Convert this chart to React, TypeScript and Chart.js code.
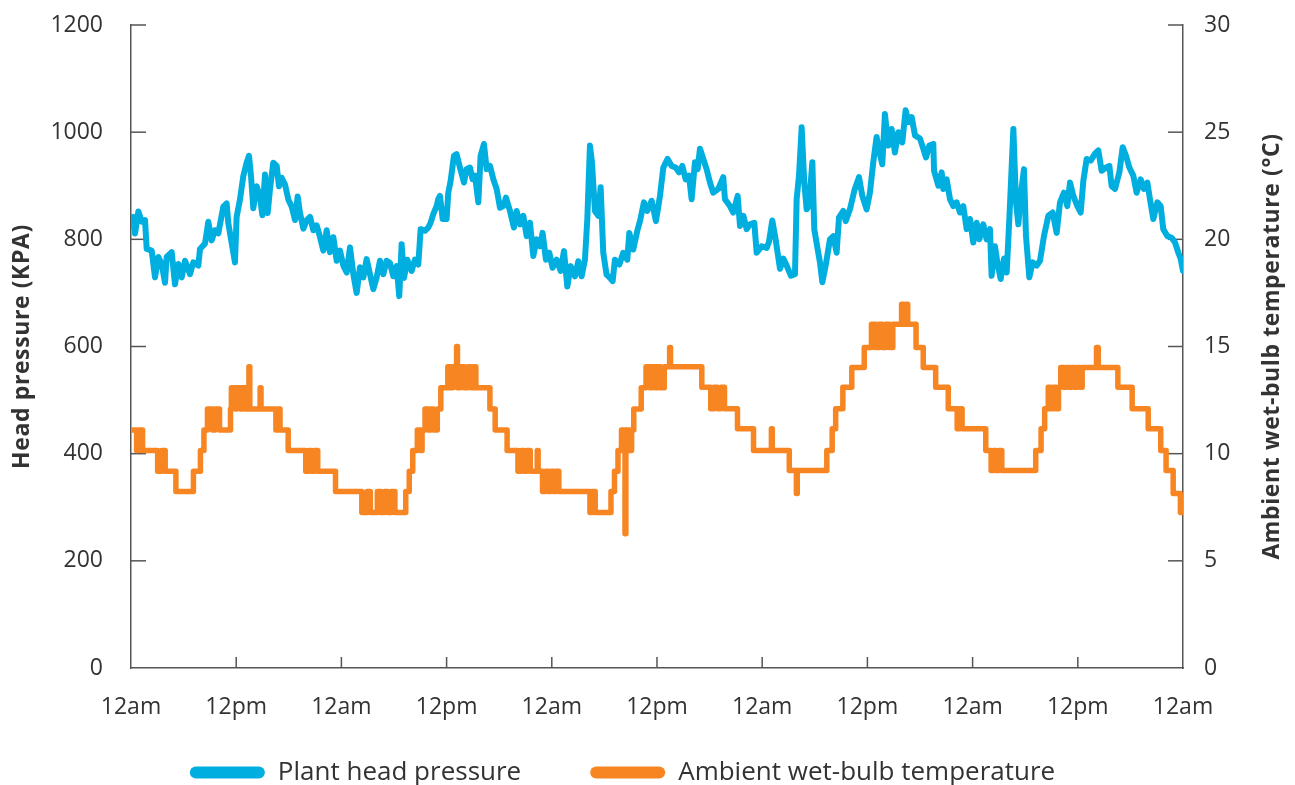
import React, { useEffect, useRef } from 'react';
import { Chart, registerables } from 'chart.js';

Chart.register(...registerables);

// ---------- data ----------
const xTickLabels = ['12am', '12pm', '12am', '12pm', '12am', '12pm', '12am', '12pm', '12am', '12pm', '12am'];

const leftTitle = 'Head pressure (KPA)';
const rightTitle = 'Ambient wet-bulb temperature (°C)';
const pressureLabel = 'Plant head pressure';
const tempLabel = 'Ambient wet-bulb temperature';

// hours since start (0..120) and plant head pressure (kPa)
const pressureHours = [
  0, 0.27, 0.46, 0.84, 1.22, 1.6, 1.79, 2.36, 2.74, 3.12, 3.5, 3.88, 4.07, 4.64, 5.02, 5.4, 5.78, 6.16, 6.73, 7.11,
  7.68, 7.87, 8.44, 8.82, 9.2, 9.58, 9.96, 10.53, 10.91, 11.1, 11.86, 12.05, 12.43, 12.81, 13.19, 13.46, 13.69, 13.95, 14.33, 14.71,
  14.98, 15.29, 15.59, 15.85, 16.23, 16.62, 16.88, 17.18, 17.57, 17.95, 18.33, 18.71, 19.01, 19.28, 19.66, 20.04, 20.42, 20.8, 21.18, 21.56,
  21.94, 22.32, 22.7, 23.08, 23.46, 23.84, 24.22, 24.6, 24.98, 25.36, 25.74, 26.12, 26.5, 26.88, 27.26, 27.64, 28.02, 28.4, 28.78, 29.16,
  29.54, 29.92, 30.3, 30.6, 30.87, 31.14, 31.52, 32.01, 32.39, 32.77, 33.04, 33.53, 33.91, 34.18, 34.48, 34.86, 35.05, 35.24, 35.55, 36.0,
  36.19, 36.46, 36.84, 37.14, 37.52, 37.98, 38.28, 38.66, 38.97, 39.24, 39.62, 39.88, 40.26, 40.57, 40.95, 41.33, 41.71, 42.09, 42.47, 42.77,
  43.23, 43.68, 43.99, 44.37, 44.75, 45.13, 45.51, 45.89, 46.27, 46.65, 46.95, 47.33, 47.71, 48.09, 48.55, 49.01, 49.39, 49.77, 50.15, 50.64,
  51.02, 51.4, 51.78, 52.05, 52.35, 52.58, 52.92, 53.3, 53.57, 53.87, 54.25, 54.63, 54.94, 55.2, 55.7, 56.15, 56.61, 56.84, 57.29, 57.75,
  58.06, 58.51, 58.89, 59.39, 59.88, 60.34, 60.72, 61.21, 61.67, 62.13, 62.51, 62.89, 63.27, 63.65, 63.95, 64.33, 64.64, 64.9, 65.28, 65.66,
  66.04, 66.42, 66.99, 67.56, 67.75, 68.32, 68.7, 69.2, 69.47, 69.85, 70.23, 70.61, 71.1, 71.37, 71.94, 72.51, 72.77, 73.15, 73.53, 74.03,
  74.41, 74.79, 75.28, 75.74, 75.93, 76.2, 76.5, 76.8, 77.07, 77.34, 77.72, 77.94, 78.32, 78.59, 78.86, 79.24, 79.73, 80.11, 80.49, 80.76,
  81.25, 81.52, 82.01, 82.51, 83.04, 83.42, 83.91, 84.29, 84.67, 85.05, 85.32, 85.7, 86.0, 86.38, 86.76, 87.14, 87.52, 87.98, 88.36, 88.67,
  89.05, 89.43, 90.0, 90.38, 90.68, 91.06, 91.52, 91.6, 92.09, 92.47, 92.66, 93.04, 93.42, 93.8, 94.18, 94.56, 94.94, 95.32, 95.7, 96.08,
  96.46, 96.77, 97.22, 97.6, 97.98, 98.17, 98.55, 98.82, 99.2, 99.58, 99.89, 100.19, 100.65, 100.95, 101.22, 101.48, 101.86, 102.09, 102.47, 102.85,
  103.31, 103.69, 104.14, 104.64, 105.13, 105.59, 105.97, 106.42, 106.8, 107.11, 107.49, 107.95, 108.33, 108.63, 109.01, 109.47, 109.96, 110.34, 110.72, 111.22,
  111.6, 111.86, 112.24, 112.74, 113.12, 113.5, 113.88, 114.33, 114.71, 115.17, 115.55, 115.93, 116.23, 116.61, 117.07, 117.45, 117.75, 118.21, 118.71, 119.09,
  119.47, 119.73, 120,
];
const pressureKpa = [
  826, 842, 811, 852, 833, 836, 782, 779, 729, 767, 754, 719, 767, 776, 716, 754, 729, 760, 735, 757,
  751, 782, 792, 833, 798, 817, 811, 861, 867, 830, 757, 842, 874, 918, 943, 956, 918, 858, 899, 880,
  845, 921, 849, 893, 943, 937, 899, 915, 902, 874, 861, 836, 880, 849, 820, 836, 842, 817, 826, 804,
  779, 817, 776, 804, 760, 779, 751, 738, 785, 735, 700, 748, 729, 763, 735, 707, 729, 760, 735, 760,
  756, 731, 750, 694, 791, 728, 762, 741, 762, 753, 819, 816, 822, 831, 847, 862, 875, 881, 838, 838,
  887, 909, 956, 959, 934, 906, 931, 934, 912, 919, 869, 956, 978, 931, 937, 912, 894, 859, 862, 878,
  853, 822, 853, 828, 844, 806, 831, 769, 800, 787, 812, 762, 775, 747, 762, 741, 778, 712, 750, 731,
  759, 731, 762, 837, 975, 944, 853, 844, 897, 775, 734, 728, 722, 762, 753, 775, 762, 812, 781, 816,
  834, 869, 853, 872, 834, 881, 934, 950, 937, 934, 925, 937, 912, 919, 875, 944, 931, 969, 950, 931,
  906, 887, 894, 916, 875, 862, 850, 881, 825, 844, 819, 828, 831, 775, 787, 784, 795, 835, 800, 745,
  764, 751, 732, 735, 875, 919, 1009, 906, 856, 863, 944, 819, 782, 757, 720, 751, 800, 806, 775, 841,
  853, 834, 856, 891, 916, 881, 856, 887, 944, 991, 966, 940, 1034, 975, 1006, 962, 1000, 981, 1041, 1019,
  1028, 994, 988, 969, 953, 975, 978, 928, 900, 925, 894, 912, 875, 862, 869, 850, 862, 819, 838, 794,
  831, 800, 828, 800, 819, 732, 787, 757, 726, 764, 738, 838, 1006, 869, 828, 881, 931, 806, 729, 757,
  751, 760, 806, 844, 850, 812, 869, 887, 862, 906, 881, 862, 850, 909, 950, 947, 960, 966, 928, 934,
  937, 899, 894, 925, 972, 956, 934, 919, 887, 912, 894, 906, 875, 838, 869, 862, 819, 806, 803, 794,
  775, 764, 741,
];

// hours since start at which the wet-bulb reading changes, and the new reading (°C)
const tempHours = [
  0, 0.64, 0.9, 1.32, 3.04, 3.5, 3.9, 5.12, 7.12, 7.92, 8.32, 8.72, 9.3, 9.6, 10.1, 11.35, 11.45, 11.9, 12.1, 12.5,
  12.8, 13.1, 13.45, 13.55, 14.73, 14.83, 16.53, 16.8, 17.0, 17.93, 19.93, 20.3, 20.6, 20.9, 21.3, 23.33, 26.33, 26.93, 27.3, 28.1,
  28.5, 28.9, 29.3, 29.7, 30.1, 31.34, 31.74, 32.14, 32.66, 33.0, 33.2, 33.54, 33.9, 34.2, 34.5, 34.94, 35.34, 36.14, 36.4, 36.7,
  37.14, 37.24, 37.6, 38.0, 38.4, 38.8, 39.14, 39.34, 40.94, 41.54, 42.9, 44.14, 44.5, 44.8, 45.1, 45.54, 46.34, 46.44, 46.94, 47.3,
  47.6, 47.9, 48.2, 48.5, 48.8, 52.35, 52.6, 52.95, 54.75, 55.15, 55.55, 55.95, 56.35, 56.45, 56.9, 57.1, 57.35, 58.2, 58.75, 59.2,
  59.5, 59.8, 60.1, 60.4, 60.83, 61.44, 61.54, 65.11, 66.13, 66.5, 66.9, 67.3, 67.7, 69.18, 71.01, 73.05, 73.15, 75.09, 75.9, 76.0,
  79.37, 79.98, 80.38, 81.2, 82.22, 83.64, 84.46, 84.9, 85.27, 85.7, 86.1, 86.5, 86.9, 87.9, 88.1, 88.35, 88.6, 89.55, 90.37, 91.79,
  93.22, 94.24, 94.5, 94.8, 97.5, 98.11, 98.4, 98.7, 99.0, 99.33, 103.2, 103.81, 104.22, 104.63, 104.9, 105.2, 105.5, 105.8, 106.05, 106.4,
  106.7, 107.0, 107.3, 107.6, 107.9, 108.2, 108.5, 110.13, 110.33, 112.57, 114.2, 116.03, 117.46, 118.07, 118.88, 119.7, 120,
];
const tempC = [
  11.1, 10.15, 11.1, 10.15, 9.18, 10.15, 9.18, 8.23, 9.18, 10.15, 11.1, 12.08, 11.1, 12.08, 11.1, 12.08, 13.08, 12.08, 13.08, 12.08,
  13.08, 12.08, 14.05, 12.08, 13.08, 12.08, 11.1, 12.08, 11.1, 10.15, 9.18, 10.15, 9.18, 10.15, 9.18, 8.23, 7.26, 8.23, 7.26, 8.23,
  7.26, 8.23, 7.26, 8.23, 7.26, 8.23, 9.18, 10.15, 11.1, 10.15, 11.1, 12.08, 11.1, 12.08, 11.1, 12.08, 13.08, 14.05, 13.08, 14.05,
  15.0, 13.08, 14.05, 13.08, 14.05, 13.08, 14.05, 13.08, 12.08, 11.1, 10.15, 9.18, 10.15, 9.18, 10.15, 9.18, 10.15, 9.18, 8.23, 9.18,
  8.23, 9.18, 8.23, 9.18, 8.23, 7.26, 8.23, 7.26, 8.23, 9.18, 10.15, 11.1, 6.26, 11.1, 10.15, 11.1, 12.08, 13.08, 14.05, 13.08,
  14.05, 13.08, 14.05, 13.08, 14.05, 14.95, 14.05, 13.1, 12.09, 13.1, 12.09, 13.1, 12.09, 11.16, 10.15, 11.16, 10.15, 9.22, 8.14, 9.22,
  10.15, 11.16, 12.09, 13.1, 14.02, 14.95, 16.04, 14.95, 16.04, 14.95, 16.04, 14.95, 16.04, 16.97, 16.04, 16.97, 16.04, 14.95, 14.02, 13.1,
  12.09, 11.16, 12.09, 11.16, 10.15, 9.22, 10.15, 9.22, 10.15, 9.22, 10.15, 11.16, 12.09, 13.1, 12.09, 13.1, 12.09, 13.1, 14.02, 13.1,
  14.02, 13.1, 14.02, 13.1, 14.02, 13.1, 14.02, 14.95, 14.02, 13.1, 12.09, 11.16, 10.15, 9.22, 8.14, 7.26, 7.26,
];

// ---------- styles ----------
const W = 1295;
const H = 785;
const BLUE = '#00AEDF';
const ORANGE = '#F68522';
const TEXT = '#333333';
const AXIS = '#555555';
const FONT = "'Open Sans', 'Noto Sans', sans-serif";
const PAD_RIGHT = 50;
const PAD_BOTTOM = -10.5;
const PLOT_BOTTOM = 668;

const drawRotatedTitle = (ctx: any, text: string, cx: number, cy: number) => {
  ctx.save();
  ctx.font = `bold 23px ${FONT}`;
  try {
    ctx.letterSpacing = '0.6px';
  } catch (e) {
    /* ignore */
  }
  ctx.fillStyle = TEXT;
  ctx.textAlign = 'center';
  ctx.textBaseline = 'middle';
  ctx.translate(cx, cy);
  ctx.rotate(-Math.PI / 2);
  ctx.fillText(text, 0, 0);
  ctx.restore();
};

const decorPlugin = {
  id: 'decor',
  beforeDatasetsDraw(chart: any) {
    const { ctx, chartArea, scales } = chart;
    const x = scales.x;
    const y = scales.y;
    const y1 = scales.y1;
    ctx.save();
    ctx.strokeStyle = AXIS;
    ctx.lineWidth = 1.5;
    y.ticks.forEach((t: any) => {
      if (t.value === y.min) return;
      const py = y.getPixelForValue(t.value);
      ctx.beginPath();
      ctx.moveTo(chartArea.left, py);
      ctx.lineTo(chartArea.left + 15, py);
      ctx.stroke();
    });
    y1.ticks.forEach((t: any) => {
      if (t.value === y1.min) return;
      const py = y1.getPixelForValue(t.value);
      ctx.beginPath();
      ctx.moveTo(chartArea.right, py);
      ctx.lineTo(chartArea.right - 15, py);
      ctx.stroke();
    });
    x.ticks.forEach((t: any) => {
      if (t.value === x.min || t.value === x.max) return;
      const px = x.getPixelForValue(t.value);
      ctx.beginPath();
      ctx.moveTo(px, chartArea.bottom);
      ctx.lineTo(px, chartArea.bottom - 11);
      ctx.stroke();
    });
    ctx.restore();
  },
  afterDraw(chart: any) {
    const { ctx, chartArea } = chart;
    const cy = (chartArea.top + chartArea.bottom) / 2;
    drawRotatedTitle(ctx, leftTitle, 22, cy);
    drawRotatedTitle(ctx, rightTitle, 1272, cy);
  },
};

const zeroPadding = (s: any) => {
  s.paddingTop = 0;
  s.paddingBottom = 0;
  s.paddingLeft = 0;
  s.paddingRight = 0;
};

export default function App() {
  const canvasRef = useRef<HTMLCanvasElement | null>(null);

  useEffect(() => {
    const canvas = canvasRef.current;
    if (!canvas) return;

    const pressurePoints = pressureHours.map((h, i) => ({ x: h, y: pressureKpa[i] }));
    const tempPoints = tempHours.map((h, i) => ({ x: h, y: tempC[i] }));

    const tickFont = { family: FONT, size: 23 };

    const chart = new Chart(canvas, {
      type: 'line',
      data: {
        datasets: [
          {
            label: pressureLabel,
            data: pressurePoints,
            yAxisID: 'y',
            borderColor: BLUE,
            backgroundColor: BLUE,
            borderWidth: 6,
            pointRadius: 0,
            tension: 0,
            borderCapStyle: 'round',
            borderJoinStyle: 'round',
          },
          {
            label: tempLabel,
            data: tempPoints,
            yAxisID: 'y1',
            borderColor: ORANGE,
            backgroundColor: ORANGE,
            borderWidth: 5.5,
            pointRadius: 0,
            stepped: true,
            borderCapStyle: 'round',
            borderJoinStyle: 'round',
          },
        ],
      } as any,
      options: {
        responsive: false,
        animation: false,
        devicePixelRatio: 1,
        layout: { padding: { top: 25, left: 0, right: PAD_RIGHT, bottom: PAD_BOTTOM } },
        plugins: {
          tooltip: { enabled: false },
          legend: {
            position: 'bottom',
            align: 'center',
            labels: {
              boxWidth: 75,
              boxHeight: 12,
              padding: 69,
              useBorderRadius: true,
              borderRadius: 6,
              color: TEXT,
              font: { family: FONT, size: 26 },
              generateLabels: (c: any) =>
                (Chart.defaults.plugins.legend.labels as any).generateLabels(c).map((l: any) => ({
                  ...l,
                  lineWidth: 0,
                  strokeStyle: 'rgba(0,0,0,0)',
                  borderRadius: 6,
                })),
            },
          },
        },
        scales: {
          x: {
            type: 'linear',
            min: 0,
            max: 120,
            afterFit: (s: any) => {
              const legendH = s.chart.legend ? s.chart.legend.height : 0;
              s.height = Math.max(0, H - PAD_BOTTOM - legendH - PLOT_BOTTOM);
              zeroPadding(s);
            },
            grid: { display: false, drawTicks: false },
            border: { display: true, color: AXIS, width: 1.5 },
            ticks: {
              stepSize: 12,
              autoSkip: false,
              maxRotation: 0,
              minRotation: 0,
              mirror: true,
              padding: -53,
              color: TEXT,
              font: tickFont,
              callback: (v: any) => xTickLabels[Math.round(Number(v) / 12)] ?? '',
            },
          },
          y: {
            type: 'linear',
            position: 'left',
            min: 0,
            max: 1200,
            afterFit: (s: any) => {
              s.width = 131;
              zeroPadding(s);
            },
            grid: { display: false, drawTicks: false },
            border: { display: true, color: AXIS, width: 1.5 },
            ticks: { stepSize: 200, padding: 28, color: TEXT, font: tickFont, callback: (v: any) => String(v) },
          },
          y1: {
            type: 'linear',
            position: 'right',
            min: 0,
            max: 30,
            afterFit: (s: any) => {
              s.width = W - PAD_RIGHT - 1183;
              zeroPadding(s);
            },
            grid: { display: false, drawTicks: false },
            border: { display: true, color: AXIS, width: 1.5 },
            ticks: { stepSize: 5, padding: 21, color: TEXT, font: tickFont, callback: (v: any) => String(v) },
          },
        },
      } as any,
      plugins: [decorPlugin],
    });

    return () => {
      chart.destroy();
    };
  }, []);

  return (
    <div style={{ position: 'absolute', left: 0, top: 0, width: W, height: H, background: '#ffffff' }}>
      <canvas ref={canvasRef} width={W} height={H} style={{ display: 'block', width: W, height: H }} />
    </div>
  );
}
